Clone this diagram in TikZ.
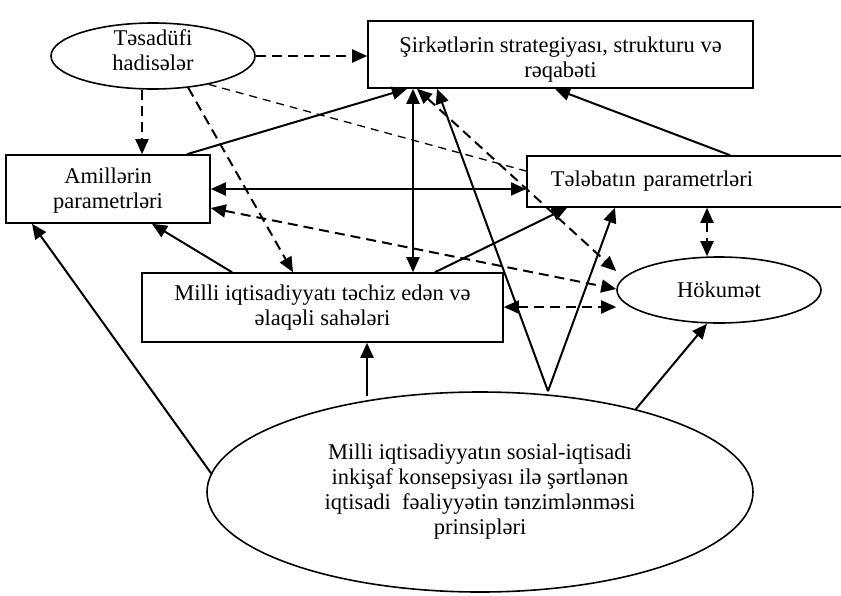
\documentclass[tikz,border=0pt]{standalone}
\usepackage{fontspec}
\setmainfont{Liberation Serif}
\usetikzlibrary{arrows.meta,shapes.geometric,calc}
\newcommand{\shiftedtext}[2]{\raisebox{#1}[\height][\depth]{\begin{tabular}{@{}c@{}}#2\end{tabular}}}
\begin{document}
\begin{tikzpicture}[x=1pt,y=-1pt,
  every node/.style={font=\fontsize{22.5}{25}\selectfont, inner sep=0pt, align=center},
  rbox/.style={draw, line width=1.6pt, rectangle},
  oval/.style={draw, line width=1.6pt, ellipse, inner ysep=-6pt},
  >={Triangle[length=15pt,width=13pt]},
  sarr/.style={line width=2pt},
  darr/.style={line width=2pt, dash pattern=on 10pt off 6pt},
  tdash/.style={line width=1.3pt, dash pattern=on 8pt off 6pt}]
\useasboundingbox (0,0) rectangle (841,595);
\clip (0,0) rectangle (841,595);

% nodes
\node[oval, minimum width=204pt, minimum height=66pt] (tes) at (153,56) {\shiftedtext{3pt}{Təsadüfi\\hadisələr}};
\node[rbox, minimum width=385pt, minimum height=67pt] (sirk) at (560.5,54.5) {\shiftedtext{-5pt}{Şirkətlərin strategiyası, strukturu və\\rəqabəti}};
\node[rbox, minimum width=204pt, minimum height=68pt] (amil) at (108,189) {\shiftedtext{-2pt}{Amillərin\\parametrləri}};
\node[rbox, anchor=west, minimum width=360pt, minimum height=51pt, text width=312pt, inner xsep=24pt, align=left] (teleb) at (526,181.5) {Tələbatın parametrləri};
\node[rbox, minimum width=361pt, minimum height=69pt] (milli) at (322.5,307.5) {Milli iqtisadiyyatı təchiz edən və\\əlaqəli sahələri};
\node[oval, minimum width=204pt, minimum height=66pt] (hok) at (719,290) {Hökumət};
\node[oval, minimum width=546pt, minimum height=200pt] (big) at (480,492) {Milli iqtisadiyyatın sosial-iqtisadi\\inkişaf konsepsiyası ilə şərtlənən\\iqtisadi~ fəaliyyətin tənzimlənməsi\\prinsipləri};

% dashed connectors
\draw[darr,->] (tes.east) -- (tes.east -| sirk.west);
\draw[darr,->] (142,0 |- tes.south) -- (142,0 |- amil.north);
\draw[darr,->] (tes.-42) -- (293,0 |- milli.north);
\draw[tdash] (tes.-27) -- (teleb.west |- 0,171);
\draw[darr,<->] (417,0 |- sirk.south) -- (hok.west |- 0,271);
\draw[darr,<->] (amil.east |- 0,208) -- (hok.west |- 0,289);
\draw[darr,<->] (milli.east |- 0,307) -- (hok.west |- 0,307);
\draw[darr,<->] (707,0 |- teleb.south) -- (707,0 |- hok.north);

% solid connectors
\draw[sarr,->] (187,0 |- amil.north) -- (407,0 |- sirk.south);
\draw[sarr,<->] (amil.east |- 0,189) -- (teleb.west |- 0,189);
\draw[sarr,<->] (413,0 |- sirk.south) -- (413,0 |- milli.north);
\draw[sarr,->] (730,0 |- teleb.north) -- (555,0 |- sirk.south);
\draw[sarr,->] (232,0 |- milli.north) -- (152,0 |- amil.south);
\draw[sarr,->] (435,0 |- milli.north) -- (567,0 |- teleb.south);
\draw[sarr,->] (big.176) -- (32,0 |- amil.south);
\draw[sarr,->] ($(367,0 |- big.north)+(0,5)$) -- (367,0 |- milli.south);
\coordinate (peak) at (548,0 |- big.north);
\draw[sarr,->] (peak) -- (437,0 |- sirk.south);
\draw[sarr,->] (peak) -- (615,0 |- teleb.south);
\draw[sarr,->] (big.28) -- (707,0 |- hok.south);
\end{tikzpicture}
\end{document}
